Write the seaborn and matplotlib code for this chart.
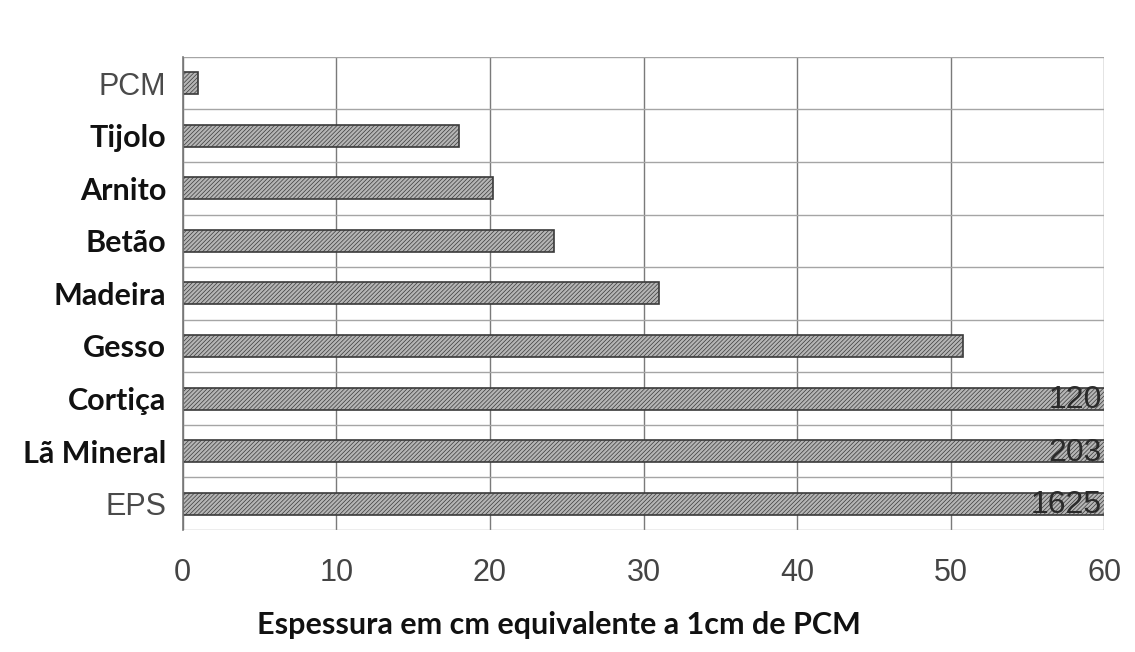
import numpy as np
import pandas as pd
import seaborn as sns
import matplotlib.pyplot as plt

# Data
materials = ['PCM', 'Tijolo', 'Arnito', 'Betão', 'Madeira', 'Gesso', 'Cortiça', 'Lã Mineral', 'EPS']
thickness = [1, 18, 20.2, 24.2, 31, 50.8, 120, 203, 1625]
x_ticks = [0, 10, 20, 30, 40, 50, 60]
xlabel = 'Espessura em cm equivalente a 1cm de PCM'
x_max = 60

sns.set_theme(style='white')
plt.rcParams['hatch.linewidth'] = 0.5
plt.rcParams['hatch.color'] = '#6a6a6a'

df = pd.DataFrame({'material': materials, 'cm': thickness})

fig = plt.figure(figsize=(11.35, 6.52), dpi=100)
ax = fig.add_axes([0.161, 0.187, 0.812, 0.726])

sns.barplot(data=df, x='cm', y='material', orient='h', color='#b5b5b5',
            saturation=1, width=0.42, edgecolor='#3a3a3a', linewidth=1.2, ax=ax)
for bar in ax.patches:
    bar.set_hatch('////////')

ax.set_xlim(0, x_max)
ax.set_ylim(len(materials) - 0.5, -0.5)

# value labels for bars beyond the axis
for i, v in enumerate(thickness):
    if v > x_max:
        ax.text(x_max - 0.15, i + 0.03, f'{v:g}', ha='right', va='center',
                fontsize=23, color='#2a2a2a', family='Liberation Sans')

# grid: vertical at major ticks, horizontal at category boundaries
ax.set_xticks(x_ticks)
ax.set_xticklabels([str(t) for t in x_ticks], fontsize=22, color='#444444',
                   family='Liberation Sans')
ax.set_yticks(np.arange(len(materials)))
ax.set_yticks(np.arange(len(materials) + 1) - 0.5, minor=True)
ax.grid(False)
ax.xaxis.grid(True, color='#7a7a7a', linewidth=1.0)
ax.yaxis.grid(True, which='minor', color='#a5a5a5', linewidth=1.0)
ax.set_axisbelow(True)

for s in ['top', 'right', 'bottom']:
    ax.spines[s].set_visible(False)
ax.spines['left'].set_color('#777777')
ax.spines['left'].set_linewidth(1.2)

ax.tick_params(axis='y', which='major', length=0, pad=12)
ax.tick_params(axis='y', which='minor', length=8, color='#888888', width=1)
ax.tick_params(axis='x', length=8, color='#777777', width=1, pad=12)

ax.set_yticklabels(materials)
for lab in ax.get_yticklabels():
    if lab.get_text() in ('PCM', 'EPS'):
        lab.set_family('Liberation Sans')
        lab.set_fontsize(22)
        lab.set_color('#4a4a4a')
    else:
        lab.set_family('Lato')
        lab.set_fontweight('bold')
        lab.set_fontsize(22)
        lab.set_color('#111111')

ax.set_ylabel('')
ax.set_xlabel('')
fig.text(0.4925, 0.042, xlabel, ha='center', va='center', fontsize=22,
         fontweight='bold', family='Lato', color='#111111')

fig.savefig('out.png', dpi=100, facecolor='white')
